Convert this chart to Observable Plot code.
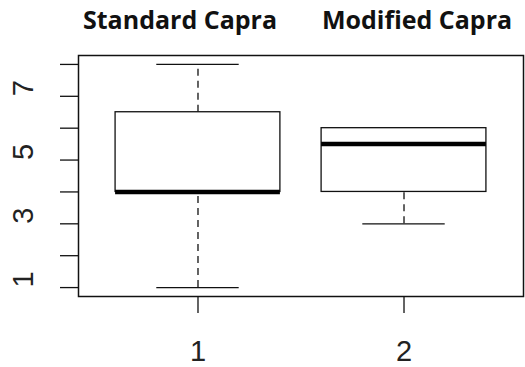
<!DOCTYPE html>
<html>
<head>
<meta charset="utf-8">
<script src="https://cdn.jsdelivr.net/npm/d3@7"></script>
<script src="https://cdn.jsdelivr.net/npm/@observablehq/plot@0.6"></script>
<style>
  html, body { margin: 0; padding: 0; background: #fff; }
  #wrap { position: relative; width: 525px; height: 367px; }
  .ttl { position: absolute; top: 2px; font-family: "Open Sans", sans-serif; font-weight: 700; font-size: 25px; line-height: 34px; color: #111; transform: translateX(-50%); white-space: nowrap; }
</style>
</head>
<body>
<div id="wrap"></div>
<script>
// Data (R-style boxplot statistics)
const groups = [1, 2];
const titles = ["Standard Capra", "Modified Capra"];
const lowerWhisker = [1, 3];
const q1 = [4, 4];
const median = [4, 5.5];
const q3 = [6.5, 6];
const upperWhisker = [8, 6];
const yTicks = [1, 2, 3, 4, 5, 6, 7, 8];
const yLabels = [1, 3, 5, 7];
const xTicks = [1, 2];

const boxHalf = 0.4, capHalf = 0.2;
const data = groups.map((g, i) => ({
  g, title: titles[i], lo: lowerWhisker[i], q1: q1[i], med: median[i], q3: q3[i], hi: upperWhisker[i]
}));

const chart = Plot.plot({
  width: 525,
  height: 367,
  marginLeft: 78,
  marginRight: 2,
  marginTop: 55,
  marginBottom: 71,
  style: { fontFamily: "'Liberation Sans', Arial, sans-serif", color: "#222", background: "#fff" },
  x: { domain: [0.42, 2.58] },
  y: { domain: [0.72, 8.28] },
  marks: [
    Plot.frame({ stroke: "#111", strokeWidth: 1.5 }),
    // whiskers (dashed)
    Plot.ruleX(data, { x: "g", y1: "q3", y2: "hi", stroke: "#111", strokeWidth: 1.3, strokeDasharray: "7,5" }),
    Plot.ruleX(data, { x: "g", y1: "lo", y2: "q1", stroke: "#111", strokeWidth: 1.3, strokeDasharray: "7,5" }),
    // staples
    Plot.ruleY(data, { y: "lo", x1: d => d.g - capHalf, x2: d => d.g + capHalf, stroke: "#111", strokeWidth: 1.3 }),
    Plot.ruleY(data, { y: "hi", x1: d => d.g - capHalf, x2: d => d.g + capHalf, stroke: "#111", strokeWidth: 1.3 }),
    // boxes
    Plot.rect(data, { x1: d => d.g - boxHalf, x2: d => d.g + boxHalf, y1: "q1", y2: "q3", fill: "#fff", stroke: "#111", strokeWidth: 1.3 }),
    // medians
    Plot.ruleY(data, { y: "med", x1: d => d.g - boxHalf, x2: d => d.g + boxHalf, stroke: "#000", strokeWidth: 4.5 }),
    // axes
    Plot.axisX({ ticks: xTicks, tickFormat: d => String(d), tickSize: 17, tickPadding: 27, fontSize: 29, stroke: "#111", strokeWidth: 1.3, label: null }),
    Plot.axisY({ ticks: yTicks, tickFormat: () => "", tickSize: 18, stroke: "#111", strokeWidth: 1.3, label: null }),
    Plot.text(yLabels, { y: d => d, text: d => String(d), frameAnchor: "left", dx: -55, rotate: -90, fontSize: 29, fill: "#222" })
  ]
});

const wrap = document.getElementById("wrap");
wrap.appendChild(chart);
const titleCenters = [180, 417];
titles.forEach((t, i) => {
  const s = document.createElement("div");
  s.className = "ttl";
  s.style.left = titleCenters[i] + "px";
  s.textContent = t;
  wrap.appendChild(s);
});
</script>
</body>
</html>
